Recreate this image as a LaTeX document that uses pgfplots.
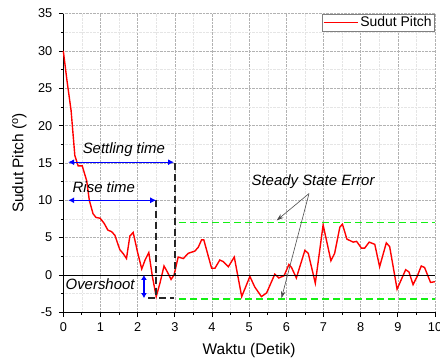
\documentclass[border=0pt]{standalone}
\usepackage{pgfplots}
\pgfplotsset{compat=1.18}
\usepackage{fontspec}
\setmainfont{Liberation Sans}
\usetikzlibrary{arrows.meta}
\definecolor{brightgreen}{RGB}{20,240,20}
\begin{document}
\begin{tikzpicture}
\begin{axis}[
  scale only axis,
  width=371.7bp, height=298.7bp,
  xmin=0, xmax=10, ymin=-5, ymax=35,
  xtick={0,1,...,10}, ytick={-5,0,...,35},
  minor x tick num=1, minor y tick num=1,
  axis x line*=bottom, axis y line*=left,
  axis line style={line width=0.9pt,-},
  tick align=outside,
  major tick length=4.5bp, minor tick length=2.5bp,
  tick style={black, line width=0.8pt},
  grid=both,
  major grid style={gray!60, densely dotted, line width=0.5pt},
  minor grid style={gray!20, densely dotted, line width=0.4pt},
  /pgf/number format/assume math mode=true,
  ticklabel style={font=\fontsize{12.8}{14}\selectfont},
  xticklabel shift=2.5bp, yticklabel shift=3bp,
  legend style={at={(1,1)}, anchor=north east, draw=gray, line width=0.6pt, font=\fontsize{14}{16}\selectfont, inner sep=1pt},
  legend image code/.code={\draw[#1] (0bp,0bp) -- (34bp,0bp);},
  legend cell align=left,
  clip=false,
]
\addplot[red, line width=1.4pt] coordinates {
(0.00,30) (0.10,26) (0.21,22) (0.31,16) (0.40,14.6) (0.51,14.6) (0.63,12.6) (0.70,10)
(0.80,8.2) (0.88,7.7) (0.99,7.6) (1.10,6.9) (1.20,6.0) (1.30,5.8) (1.39,5.3) (1.45,4.4)
(1.52,3.4) (1.62,2.8) (1.70,2.2) (1.79,5.2) (1.88,5.7) (2.00,3.0) (2.11,0.8) (2.20,2.0)
(2.30,3.0) (2.40,-0.3) (2.50,-2.9) (2.60,-1.1) (2.71,1.2) (2.80,0.4) (2.90,-0.6) (2.98,0)
(3.09,2.4) (3.23,2.2) (3.36,2.9) (3.54,3.2) (3.63,3.7) (3.72,4.7) (3.78,4.7) (3.99,0.9)
(4.08,0.9) (4.21,2.0) (4.30,1.8) (4.44,1.1) (4.60,2.4) (4.80,-2.9) (5.02,-0.2) (5.15,-1.6)
(5.33,-2.9) (5.47,-2.4) (5.69,0.1) (5.80,-0.4) (5.94,-0.1) (6.07,1.4) (6.14,1.0) (6.27,-0.4)
(6.50,3.3) (6.59,2.9) (6.78,-1.1) (6.99,6.7) (7.20,1.9) (7.30,2.9) (7.44,6.4) (7.51,6.8)
(7.63,4.8) (7.80,4.4) (7.89,4.5) (8.02,3.6) (8.11,3.6) (8.23,4.4) (8.38,4.1) (8.51,1.1)
(8.69,4.3) (8.78,3.8) (8.98,-1.9) (9.21,0.7) (9.30,0.4) (9.41,-1.3) (9.52,-0.2) (9.63,1.2)
(9.72,1.0) (9.88,-1.0) (10.00,-0.9)
};
\addlegendentry{Sudut Pitch}
% zero line
\addplot[black, line width=0.9pt, forget plot] coordinates {(0,0) (10,0)};
% green steady state lines
\addplot[brightgreen, line width=1.5pt, dash pattern=on 7bp off 4bp, forget plot] coordinates {(3.12,7) (10,7)};
\addplot[brightgreen, line width=1.5pt, dash pattern=on 7bp off 4bp, forget plot] coordinates {(3.12,-3.25) (10,-3.25)};
% black dashed guides
\addplot[black!85, line width=1.5pt, dash pattern=on 7bp off 4bp, forget plot] coordinates {(3,15) (3,0)};
\addplot[black!85, line width=1.5pt, dash pattern=on 7bp off 4bp, forget plot] coordinates {(2.5,10) (2.5,-2.9)};
\addplot[black!85, line width=1.5pt, dash pattern=on 7bp off 4bp, forget plot] coordinates {(2.28,-3.1) (2.98,-3.1)};
% blue arrows
\addplot[blue, line width=1.3pt, {Latex[length=6bp,width=6bp]}-{Latex[length=6bp,width=6bp]}, forget plot] coordinates {(0.13,15.1) (2.98,15.1)};
\addplot[blue, line width=1.3pt, {Latex[length=6bp,width=6bp]}-{Latex[length=6bp,width=6bp]}, forget plot] coordinates {(0.13,10) (2.5,10)};
\addplot[blue, line width=1.3pt, {Latex[length=5bp,width=6bp]}-{Latex[length=5bp,width=6bp]}, forget plot] coordinates {(2.17,0) (2.17,-3.1)};
% gray arrows
\addplot[black!70, line width=0.6pt, -{Stealth[length=7bp,width=4.5bp]}, forget plot] coordinates {(6.61,10.9) (5.74,7.3)};
\addplot[black!70, line width=0.6pt, -{Stealth[length=7bp,width=4.5bp]}, forget plot] coordinates {(6.61,10.9) (5.87,-3.1)};
% texts
\node[font=\fontsize{15}{17}\selectfont\itshape, anchor=base, inner sep=0pt] at (axis cs:1.63,16.2) {Settling time};
\node[font=\fontsize{15}{17}\selectfont\itshape, anchor=base, inner sep=0pt] at (axis cs:1.09,11.0) {Rise time};
\node[font=\fontsize{15}{17}\selectfont\itshape, anchor=base, inner sep=0pt] at (axis cs:0.99,-2.0) {Overshoot};
\node[font=\fontsize{15}{17}\selectfont\itshape, anchor=base, inner sep=0pt] at (axis cs:6.72,12.0) {Steady State Error};
% axis labels
\node[font=\fontsize{15.5}{17}\selectfont, anchor=base] at ([yshift=-42bp]rel axis cs:0.5,0) {Waktu (Detik)};
\node[font=\fontsize{15.5}{17}\selectfont, anchor=base, rotate=90] at ([xshift=-40bp]rel axis cs:0,0.5) {Sudut Pitch (\textsuperscript{o})};
\coordinate (SW) at (rel axis cs:0,0);
\coordinate (NE) at (rel axis cs:1,1);
\end{axis}
\pgfresetboundingbox
\path[use as bounding box] ([shift={(-63.3bp,-46.7bp)}]SW) rectangle ([shift={(5bp,13.6bp)}]NE);
\end{tikzpicture}
\end{document}
